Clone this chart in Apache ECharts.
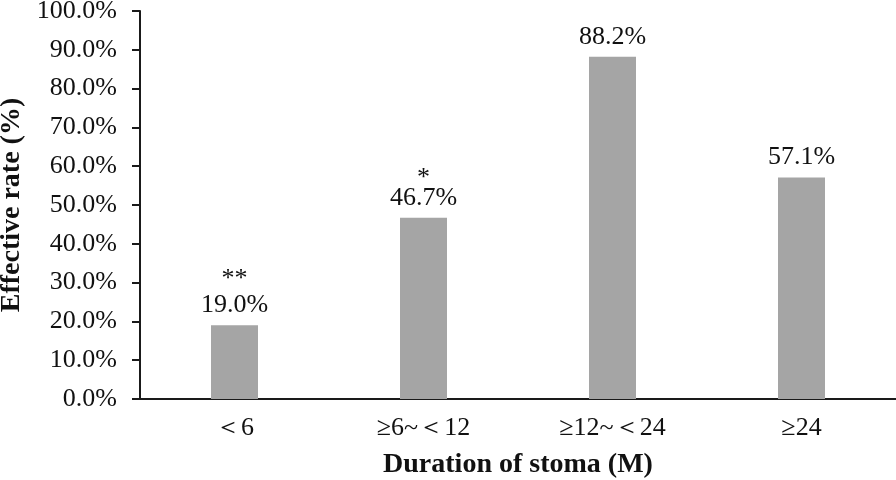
<!DOCTYPE html>
<html><head><meta charset="utf-8">
<script src="https://cdn.jsdelivr.net/npm/echarts@6/dist/echarts.min.js"></script>
<style>html,body{margin:0;padding:0;background:#fff}#c{width:896px;height:480px}</style>
</head><body><div id="c"></div>
<script>
const categories = ['＜6', '≥6~＜12', '≥12~＜24', '≥24'];
const values = [19.0, 46.7, 88.2, 57.1];
const stars = ['**', '*', '', ''];
const yTicks = {min: 0, max: 100, interval: 10};

const font = 'Liberation Serif';
const starStyle = ['s1', 's2', 's1', 's1'];
const chart = echarts.init(document.getElementById('c'));
chart.setOption({
  animation: false,
  grid: {left: 140, right: 0, top: 11, bottom: 81, containLabel: false, outerBoundsMode: 'none'},
  xAxis: {
    type: 'category', data: categories,
    axisLine: {lineStyle: {color: '#1a1a1a', width: 2}},
    axisTick: {show: false},
    axisLabel: {fontFamily: font, fontSize: 26, color: '#111', margin: 16},
    name: 'Duration of stoma (M)', nameLocation: 'middle', nameGap: 52,
    nameTextStyle: {fontFamily: font, fontSize: 28, fontWeight: 'bold', color: '#111'}
  },
  yAxis: {
    type: 'value', min: yTicks.min, max: yTicks.max, interval: yTicks.interval,
    splitLine: {show: false},
    axisLine: {show: true, lineStyle: {color: '#1a1a1a', width: 2}},
    axisTick: {show: true, length: 8, lineStyle: {color: '#1a1a1a', width: 2}},
    axisLabel: {fontFamily: font, fontSize: 26, color: '#111', margin: 23,
      formatter: v => v.toFixed(1) + '%'},
    name: 'Effective rate (%)', nameLocation: 'middle', nameGap: 108,
    nameTextStyle: {fontFamily: font, fontSize: 28, fontWeight: 'bold', color: '#111'}
  },
  series: [{
    type: 'bar', data: values, barWidth: 47,
    itemStyle: {color: '#a5a5a5'},
    label: {
      show: true, position: 'top', distance: 7,
      fontFamily: font, fontSize: 26, color: '#111', lineHeight: 26,
      rich: {
        s1: {fontFamily: font, fontSize: 26, lineHeight: 26, color: '#111'},
        s2: {fontFamily: font, fontSize: 26, lineHeight: 14, color: '#111'},
        v: {fontFamily: font, fontSize: 26, lineHeight: 26, color: '#111'}
      },
      formatter: p => {
        const s = stars[p.dataIndex];
        const v = '{v|' + p.value.toFixed(1) + '%}';
        return s ? '{' + starStyle[p.dataIndex] + '|' + s + '}\n' + v : v;
      }
    }
  }]
});
</script></body></html>
